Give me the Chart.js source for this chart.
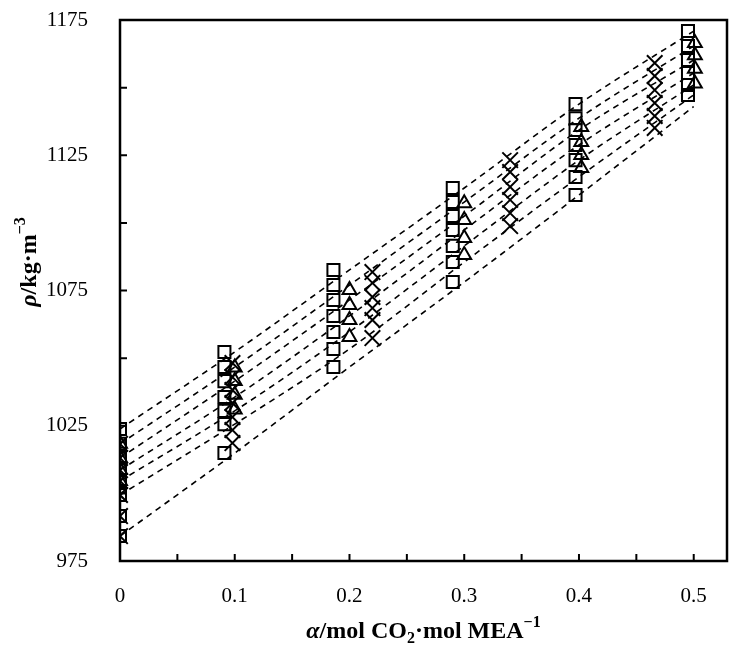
<!DOCTYPE html>
<html>
<head>
<meta charset="utf-8">
<script src="https://cdn.jsdelivr.net/npm/chart.js@4.4.1/dist/chart.umd.min.js"></script>
<style>
html, body { margin: 0; padding: 0; background: #fff; }
</style>
</head>
<body>
<canvas id="density-chart" width="741" height="651"></canvas>
<script>
// Density of loaded MEA solutions vs CO2 loading

// squares
const squareAlpha = [0, 0.091, 0.186, 0.29, 0.397, 0.495];
const squareRho = [
    [1023.8, 1018.3, 1013.1, 1008.6, 1004.6, 999.4, 991.6, 984.2],
    [1052.3, 1046.7, 1041.5, 1035.6, 1030.5, 1025.6, 1014.9],
    [1082.6, 1077.0, 1071.5, 1065.6, 1059.7, 1053.4, 1046.7],
    [1112.9, 1107.7, 1102.5, 1097.4, 1091.5, 1085.5, 1078.1],
    [1143.9, 1138.7, 1134.3, 1128.8, 1123.2, 1117.0, 1110.3],
    [1170.9, 1165.4, 1160.2, 1155.4, 1151.0, 1147.3]
];

// triangles
const triangleAlpha = [0, 0.1, 0.2, 0.3, 0.402, 0.501];
const triangleRho = [
    [1018.3, 1013.1, 1008.6, 1004.6],
    [1046.5, 1041.5, 1036.5, 1031.0],
    [1075.2, 1069.6, 1064.1, 1057.8],
    [1107.3, 1101.1, 1094.4, 1088.1],
    [1135.4, 1129.9, 1125.1, 1120.3],
    [1166.5, 1162.0, 1157.0, 1151.5]
];

// crosses
const crossAlpha = [0, 0.098, 0.22, 0.34, 0.466];
const crossRho = [
    [1018.3, 1013.1, 1008.6, 1004.6, 999.4, 991.6, 984.2],
    [1048.2, 1043.0, 1038.2, 1033.4, 1028.2, 1023.4, 1018.6],
    [1081.8, 1077.8, 1072.6, 1068.5, 1064.1, 1057.4],
    [1123.2, 1118.8, 1113.3, 1108.5, 1103.6, 1098.8],
    [1159.1, 1154.3, 1149.1, 1144.3, 1139.5, 1135.1]
];

// model lines (dashed)
const lineAlpha = [0, 0.1, 0.2, 0.3, 0.4, 0.5];
const lineRho = [
    [1023.8, 1052.3, 1082.6, 1112.9, 1143.9, 1170.9],
    [1018.3, 1046.7, 1077.0, 1107.7, 1138.7, 1165.4],
    [1013.1, 1041.5, 1071.5, 1102.5, 1134.3, 1160.2],
    [1008.6, 1035.6, 1065.6, 1097.4, 1128.8, 1155.4],
    [1004.6, 1030.5, 1059.7, 1091.5, 1123.2, 1151.0],
    [999.4, 1025.6, 1053.4, 1085.5, 1117.0, 1147.3],
    [984.2, 1014.9, 1046.7, 1078.1, 1110.3, 1143.0]
];

function toPoints(xs, groups) {
    const pts = [];
    groups.forEach((g, i) => g.forEach(v => pts.push({ x: xs[i], y: v })));
    return pts;
}

const datasets = [];
lineRho.forEach(r => {
    datasets.push({
        data: r.map((v, i) => ({ x: lineAlpha[i], y: v })),
        showLine: true,
        borderColor: '#000',
        borderWidth: 1.6,
        borderDash: [6, 5],
        pointRadius: 0,
        cubicInterpolationMode: 'monotone',
        fill: false
    });
});
datasets.push({
    data: toPoints(squareAlpha, squareRho),
    pointStyle: 'rect', pointRadius: 8.5,
    borderColor: '#000', backgroundColor: 'rgba(0,0,0,0)', pointBorderWidth: 2
});
datasets.push({
    data: toPoints(triangleAlpha, triangleRho),
    pointStyle: 'triangle', pointRadius: 8,
    borderColor: '#000', backgroundColor: 'rgba(0,0,0,0)', pointBorderWidth: 2
});
datasets.push({
    data: toPoints(crossAlpha, crossRho),
    pointStyle: 'crossRot', pointRadius: 11,
    borderColor: '#000', backgroundColor: 'rgba(0,0,0,0)', pointBorderWidth: 2
});

const font = 'Liberation Serif';

// draws a run of text pieces (italic / sub / sup) centred on (cx, cy)
function drawRich(ctx, parts, cx, cy, size) {
    const fontOf = p => (p.italic ? 'italic ' : '') + 'bold ' + (p.sub || p.sup ? Math.round(size * 0.65) : size) + 'px "' + font + '"';
    let total = 0;
    parts.forEach(p => { ctx.font = fontOf(p); p.w = ctx.measureText(p.t).width; total += p.w; });
    let x = cx - total / 2;
    ctx.textAlign = 'left';
    ctx.textBaseline = 'middle';
    parts.forEach(p => {
        ctx.font = fontOf(p);
        const dy = p.sub ? size * 0.3 : (p.sup ? -size * 0.38 : 0);
        ctx.fillText(p.t, x, cy + dy);
        x += p.w;
    });
}

// inward ticks, box frame and axis titles
const frameAndTicks = {
    id: 'frameAndTicks',
    afterDraw(chart) {
        const ctx = chart.ctx, a = chart.chartArea;
        const xs = chart.scales.x, ys = chart.scales.y;
        ctx.save();
        ctx.strokeStyle = '#000';
        ctx.lineWidth = 2;
        ctx.beginPath();
        xs.ticks.forEach(t => {
            const px = xs.getPixelForValue(t.value);
            ctx.moveTo(px, a.bottom);
            ctx.lineTo(px, a.bottom - 7);
        });
        ys.ticks.forEach(t => {
            const py = ys.getPixelForValue(t.value);
            ctx.moveTo(a.left, py);
            ctx.lineTo(a.left + 7, py);
        });
        ctx.stroke();
        ctx.lineWidth = 2.5;
        ctx.strokeRect(a.left, a.top, a.right - a.left, a.bottom - a.top);

        ctx.fillStyle = '#000';
        drawRich(ctx, [
            { t: 'α', italic: true },
            { t: '/mol CO' },
            { t: '2', sub: true },
            { t: '·mol MEA' },
            { t: '−1', sup: true }
        ], (a.left + a.right) / 2, 632, 24);

        ctx.translate(30, 262);
        ctx.rotate(-Math.PI / 2);
        drawRich(ctx, [
            { t: 'ρ', italic: true },
            { t: '/kg·m' },
            { t: '−3', sup: true }
        ], 0, 0, 24);
        ctx.restore();
    }
};

new Chart(document.getElementById('density-chart').getContext('2d'), {
    type: 'scatter',
    data: { datasets: datasets },
    options: {
        responsive: false,
        animation: false,
        layout: { padding: { left: 0, top: 20, right: 14, bottom: 0 } },
        plugins: { legend: { display: false }, tooltip: { enabled: false } },
        scales: {
            x: {
                type: 'linear',
                min: 0,
                max: 0.529,
                afterFit: s => { s.height = 90; s.paddingLeft = 0; s.paddingRight = 0; },
                grid: { display: false, drawTicks: false },
                border: { display: false },
                ticks: {
                    stepSize: 0.05,
                    includeBounds: false,
                    autoSkip: false,
                    maxRotation: 0,
                    padding: 23,
                    color: '#000',
                    font: { family: font, size: 21 },
                    callback: v => Math.abs(v * 10 - Math.round(v * 10)) < 1e-6 ? String(Math.round(v * 10) / 10) : ''
                }
            },
            y: {
                type: 'linear',
                min: 975,
                max: 1175,
                afterFit: s => { s.width = 120; s.paddingTop = 0; s.paddingBottom = 0; },
                grid: { display: false, drawTicks: false },
                border: { display: false },
                ticks: {
                    stepSize: 25,
                    autoSkip: false,
                    padding: 32,
                    color: '#000',
                    font: { family: font, size: 21 },
                    callback: v => ((v - 975) % 50 === 0 ? String(v) : '')
                }
            }
        }
    },
    plugins: [frameAndTicks]
});
</script>
</body>
</html>
